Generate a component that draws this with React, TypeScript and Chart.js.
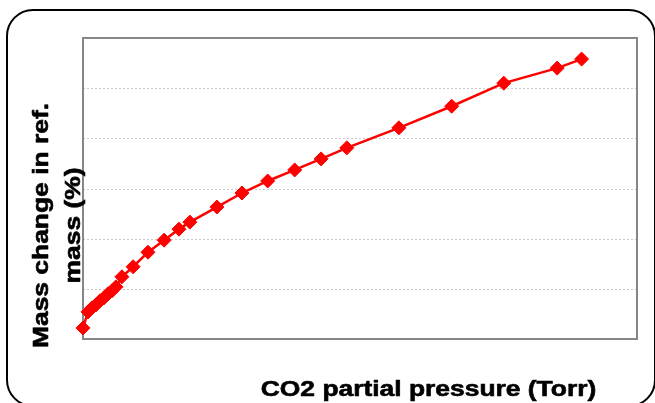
import React, { useEffect, useRef } from "react";
import { Chart, registerables } from "chart.js";

Chart.register(...registerables);

// CO2 partial pressure (Torr)
const pressure = [
  0, 7.6, 13.6, 19.7, 25.8, 31.8, 37.9, 44, 50, 59, 76, 98.5, 123, 145.5, 162,
  203, 241, 280, 321, 361, 400, 479, 559, 638, 719, 756,
];
// Mass change in ref. mass (%)
const massChange = [
  0.22, 0.54, 0.62, 0.68, 0.76, 0.82, 0.9, 0.96, 1.04, 1.24, 1.44, 1.73, 1.97,
  2.19, 2.33, 2.63, 2.91, 3.15, 3.37, 3.59, 3.81, 4.21, 4.64, 5.1, 5.4, 5.58,
];
const xRange = [0, 840];
const yRange = [0, 6];
const xTitle = "CO2 partial pressure (Torr)";
const yTitleLines = ["Mass change in ref.", "mass (%)"];

function drawBoldText(ctx: CanvasRenderingContext2D, text: string) {
  ctx.lineWidth = 0.6;
  ctx.strokeStyle = "#000000";
  ctx.lineJoin = "round";
  ctx.strokeText(text, 0, 0);
  ctx.fillText(text, 0, 0);
}

const decorPlugin = {
  id: "decor",
  beforeDraw(chart: any) {
    const ctx = chart.ctx as CanvasRenderingContext2D;
    ctx.save();
    ctx.fillStyle = "#ffffff";
    ctx.fillRect(0, 0, chart.width, chart.height);
    // outer rounded frame
    const x = 7, y = 10, w = 648, h = 396, r = 26;
    ctx.beginPath();
    ctx.moveTo(x + r, y);
    ctx.lineTo(x + w - r, y);
    ctx.arcTo(x + w, y, x + w, y + r, r);
    ctx.lineTo(x + w, y + h - r);
    ctx.arcTo(x + w, y + h, x + w - r, y + h, r);
    ctx.lineTo(x + r, y + h);
    ctx.arcTo(x, y + h, x, y + h - r, r);
    ctx.lineTo(x, y + r);
    ctx.arcTo(x, y, x + r, y, r);
    ctx.closePath();
    ctx.lineWidth = 2;
    ctx.strokeStyle = "#000000";
    ctx.stroke();
    ctx.restore();
  },
  beforeDatasetsDraw(chart: any) {
    const ctx = chart.ctx as CanvasRenderingContext2D;
    const a = chart.chartArea;
    const ys = chart.scales.y;
    ctx.save();
    // dotted horizontal gridlines at the y-scale ticks
    ctx.strokeStyle = "#c8c8c8";
    ctx.lineWidth = 1;
    ctx.setLineDash([2, 2]);
    ys.ticks.forEach((t: any) => {
      const py = Math.round(ys.getPixelForValue(t.value)) + 0.5;
      ctx.beginPath();
      ctx.moveTo(a.left, py);
      ctx.lineTo(a.right, py);
      ctx.stroke();
    });
    ctx.setLineDash([]);
    ctx.strokeStyle = "#878787";
    ctx.lineWidth = 2;
    ctx.strokeRect(a.left, a.top, a.right - a.left, a.bottom - a.top);
    ctx.restore();
  },
  afterDraw(chart: any) {
    const ctx = chart.ctx as CanvasRenderingContext2D;
    const a = chart.chartArea;
    const font = 'bold 22px "Liberation Sans", Arial, sans-serif';
    ctx.save();
    ctx.font = font;
    ctx.fillStyle = "#000000";
    ctx.textAlign = "center";
    ctx.textBaseline = "alphabetic";
    ctx.translate(a.left + 345.5, a.bottom + 57);
    ctx.scale(1.2, 1);
    drawBoldText(ctx, xTitle);
    ctx.restore();

    const baselines = [a.left - 35, a.left - 3];
    yTitleLines.forEach((line, i) => {
      ctx.save();
      ctx.font = font;
      ctx.fillStyle = "#000000";
      ctx.textAlign = "center";
      ctx.textBaseline = "alphabetic";
      ctx.translate(baselines[i], a.top + 187.5);
      ctx.rotate(-Math.PI / 2);
      ctx.scale(1.2, 1);
      drawBoldText(ctx, line);
      ctx.restore();
    });
  },
};

export default function App() {
  const ref = useRef<HTMLCanvasElement>(null);
  useEffect(() => {
    if (!ref.current) return;
    const chart = new Chart(ref.current, {
      type: "line",
      data: {
        datasets: [
          {
            data: pressure.map((p, i) => ({ x: p, y: massChange[i] })),
            borderColor: "#ff0000",
            backgroundColor: "#ff0000",
            borderWidth: 2.5,
            pointStyle: "rectRot",
            pointRadius: 7,
            pointBorderWidth: 1,
            pointBorderColor: "#ff0000",
            pointBackgroundColor: "#ff0000",
            tension: 0,
            fill: false,
            clip: false,
          },
        ],
      },
      options: {
        responsive: false,
        animation: false,
        layout: { padding: { left: 83, top: 38, right: 18, bottom: 64 } },
        plugins: {
          legend: { display: false },
          tooltip: { enabled: false },
          title: { display: false },
        },
        scales: {
          x: {
            type: "linear",
            min: xRange[0],
            max: xRange[1],
            ticks: { display: false },
            grid: { display: false, drawTicks: false },
            border: { display: false },
          },
          y: {
            type: "linear",
            min: yRange[0],
            max: yRange[1],
            ticks: { display: false, stepSize: 1 },
            grid: { display: false, drawTicks: false },
            border: { display: false },
          },
        },
      },
      plugins: [decorPlugin],
    });
    return () => chart.destroy();
  }, []);
  return (
    <canvas
      ref={ref}
      width={655}
      height={403}
      style={{ position: "fixed", left: 0, top: 0, display: "block", width: 655, height: 403 }}
    />
  );
}
